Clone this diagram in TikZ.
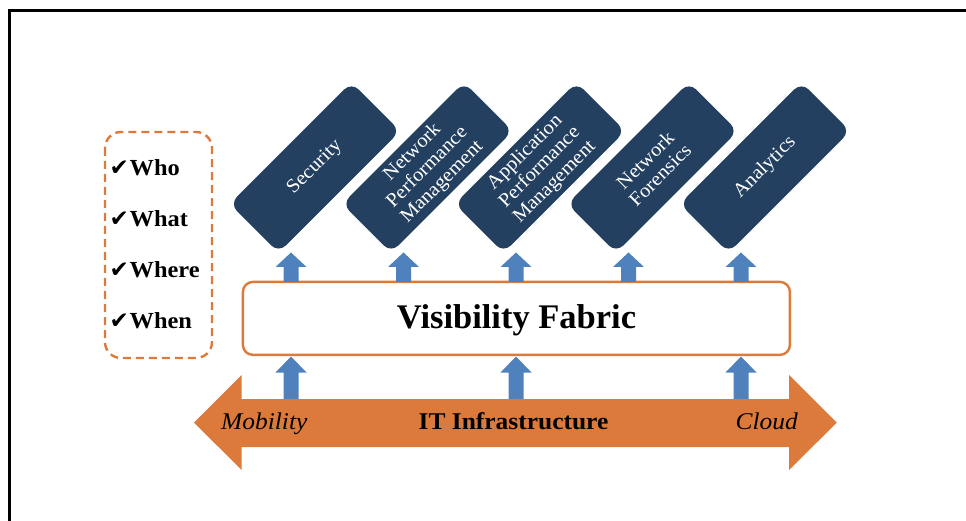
\documentclass[tikz,border=0pt]{standalone}
\usepackage{fontspec}
\setmainfont{Liberation Serif}
\newfontfamily\wideserif[FakeStretch=1.06]{Liberation Serif}
\newfontfamily\symfont{DejaVu Sans}
\definecolor{navy}{RGB}{36,64,97}
\definecolor{ablue}{RGB}{79,129,189}
\definecolor{aorange}{RGB}{220,122,60}
\tikzset{
  navybox/.style={draw=none, fill=navy, rounded corners=10pt, minimum width=172pt, minimum height=69pt,
    text=white, align=center, font=\wideserif\fontsize{19.5}{21}\selectfont, rotate=45, inner sep=0pt},
  fabricbox/.style={draw=aorange, line width=2.4pt, fill=white, rounded corners=10pt},
  dashbox/.style={draw=aorange, line width=2.4pt, dash pattern=on 8pt off 5pt, rounded corners=16pt},
  checkitem/.style={anchor=base west, inner sep=0pt, font=\wideserif\fontsize{23}{26}\selectfont\bfseries},
  checkmk/.style={anchor=base west, inner sep=0pt, font=\symfont\fontsize{23}{24}\selectfont},
  upblue/.style={fill=ablue, draw=none},
  bigarrow/.style={fill=aorange, draw=none},
  frameline/.style={line width=3pt, black},
  plainlabel/.style={inner sep=0pt}
}
\begin{document}
\begin{tikzpicture}[x=1pt, y=-1pt]
\useasboundingbox (0,0) rectangle (966,521);
% frame
\draw[frameline] (9.5,521) -- (9.5,10.5) -- (966,10.5);

% rotated boxes
\node[navybox] (b1) at (315,167.5) {Security};
\node[navybox] (b2) at (427.5,167.5) {Network\\Performance\\Management};
\node[navybox] (b3) at (540,167.5) {Application\\Performance\\Management};
\node[navybox] (b4) at (652.5,167.5) {Network\\Forensics};
\node[navybox] (b5) at (765,167.5) {Analytics};

% visibility fabric
\node[fabricbox, minimum width=547pt, minimum height=73pt] (vf) at (516.4,318.4) {};
\node[plainlabel, anchor=base, font=\fontsize{34.5}{38}\selectfont\bfseries] (vft) at (516.5,328.3) {Visibility Fabric};

% upper blue arrows
\foreach \x in {291,403.5,516,628.5,741}{
  \fill[upblue] (\x-7.5,282) -- (\x-7.5,267) -- (\x-15.5,267) -- (\x,252.5) -- (\x+15.5,267) -- (\x+7.5,267) -- (\x+7.5,282) -- cycle;
}
% lower blue arrows
\foreach \x in {291,516,741}{
  \fill[upblue] (\x-7.5,399.5) -- (\x-7.5,372.5) -- (\x-15.5,372.5) -- (\x,356.5) -- (\x+15.5,372.5) -- (\x+7.5,372.5) -- (\x+7.5,399.5) -- cycle;
}

% big double arrow
\fill[bigarrow] (194,422.7) -- (241.7,375) -- (241.7,399) -- (789,399) -- (789,375) -- (836.7,422.7)
  -- (789,470) -- (789,447) -- (241.7,447) -- (241.7,470) -- cycle;
\node[plainlabel, anchor=base west, font=\wideserif\fontsize{24}{26}\selectfont\itshape] (mob) at (221,429.3) {Mobility};
\node[plainlabel, anchor=base, font=\wideserif\fontsize{24}{26}\selectfont\bfseries] (it) at (513.5,429.3) {IT Infrastructure};
\node[plainlabel, anchor=base east, font=\wideserif\fontsize{24}{26}\selectfont\itshape] (cl) at (798,429.3) {Cloud};

% dashed box
\draw[dashbox] (105,132) rectangle (212,358);
\foreach \i/\w/\y in {1/Who/175.7, 2/What/226.7, 3/Where/277.7, 4/When/328.7}{
  \node[checkmk] (c\i) at (109.5,\y) {✔};
  \node[checkitem] (w\i) at (129.5,\y) {\w};
}
\end{tikzpicture}
\end{document}
